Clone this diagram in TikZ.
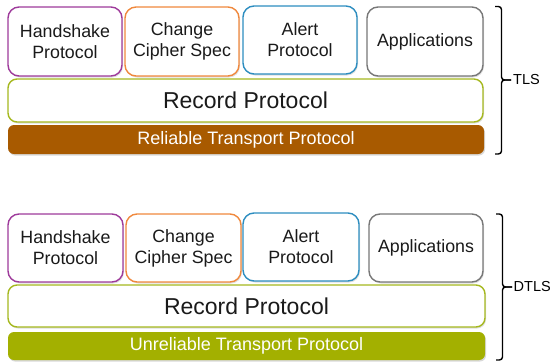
\documentclass[tikz,border=0pt]{standalone}
\usepackage{fontspec}
\setmainfont{Liberation Sans}
\usetikzlibrary{shadows}
\definecolor{hsC}{HTML}{9E3A9B}
\definecolor{ccC}{HTML}{F0883C}
\definecolor{alC}{HTML}{2C8DC0}
\definecolor{apC}{HTML}{777777}
\definecolor{recC}{HTML}{A5B81E}
\definecolor{relC}{HTML}{A85A00}
\definecolor{unrC}{HTML}{A3B000}
\definecolor{txtC}{HTML}{1A1A1A}
\tikzset{
  box/.style={draw, fill=white, line width=1.4pt, rounded corners=11pt,
    inner sep=0pt, outer sep=0pt, align=center, text=txtC,
    font=\fontsize{17.8}{21}\selectfont,
    drop shadow={opacity=0.25, shadow xshift=1pt, shadow yshift=-1.5pt}},
  recbox/.style={draw=recC, fill=white, line width=1.4pt, rounded corners=9pt,
    inner sep=0pt, outer sep=0pt, text=txtC,
    font=\fontsize{23}{27}\selectfont,
    drop shadow={opacity=0.25, shadow xshift=1pt, shadow yshift=-1.5pt}},
  transbox/.style={draw=none, rounded corners=6pt, inner sep=0pt, outer sep=0pt,
    text=white, font=\fontsize{18}{21}\selectfont,
    drop shadow={opacity=0.3, shadow xshift=1pt, shadow yshift=-1.5pt}},
  bracestyle/.style={draw=black, line width=1.4pt, rounded corners=3pt},
  lbl/.style={inner sep=0pt, anchor=west, text=black, font=\fontsize{14.5}{17}\selectfont}
}
\begin{document}
\begin{tikzpicture}[x=1pt,y=-1pt]
\useasboundingbox (0,0) rectangle (552,362);
% TLS stack
\node[box, draw=hsC, minimum width=114, minimum height=69] (hs1) at (65,41.5) {Handshake\\Protocol};
\node[box, draw=ccC, minimum width=114, minimum height=69] (cc1) at (182,41.5) {Change\\Cipher Spec};
\node[box, draw=alC, minimum width=114, minimum height=68] (al1) at (300,40) {Alert\\Protocol};
\node[box, draw=apC, minimum width=116, minimum height=69] (ap1) at (425,41.5) {Applications};
\node[recbox, minimum width=475, minimum height=43] (rec1) at (245.5,100.5) {Record Protocol};
\node[transbox, fill=relC, minimum width=476, minimum height=29] (rel1) at (246,139.5) {Reliable Transport Protocol};
\coordinate (b1t) at (495,6.5);
\coordinate (b1b) at (495,154);
\coordinate (b1m) at (501.5,80);
\coordinate (b1tip) at (511,80);
\draw[bracestyle] (b1t) -| (b1m) -- (b1tip);
\draw[bracestyle] (b1b) -| (b1m) -- (b1tip);
\node[lbl] (tls) at (513,80) {TLS};
% DTLS stack
\node[box, draw=hsC, minimum width=115, minimum height=68] (hs2) at (65.5,248) {Handshake\\Protocol};
\node[box, draw=ccC, minimum width=115, minimum height=68] (cc2) at (183.5,248) {Change\\Cipher Spec};
\node[box, draw=alC, minimum width=116, minimum height=68] (al2) at (301,247) {Alert\\Protocol};
\node[box, draw=apC, minimum width=114, minimum height=68] (ap2) at (426,248) {Applications};
\node[recbox, minimum width=477, minimum height=42] (rec2) at (246.5,306) {Record Protocol};
\node[transbox, fill=unrC, minimum width=477, minimum height=28] (unr2) at (246.5,346) {Unreliable Transport Protocol};
\coordinate (b2t) at (496,214);
\coordinate (b2b) at (496,360);
\coordinate (b2m) at (502.5,287);
\coordinate (b2tip) at (512,287);
\draw[bracestyle] (b2t) -| (b2m) -- (b2tip);
\draw[bracestyle] (b2b) -| (b2m) -- (b2tip);
\node[lbl] (dtls) at (513.5,287) {DTLS};
\end{tikzpicture}
\end{document}
